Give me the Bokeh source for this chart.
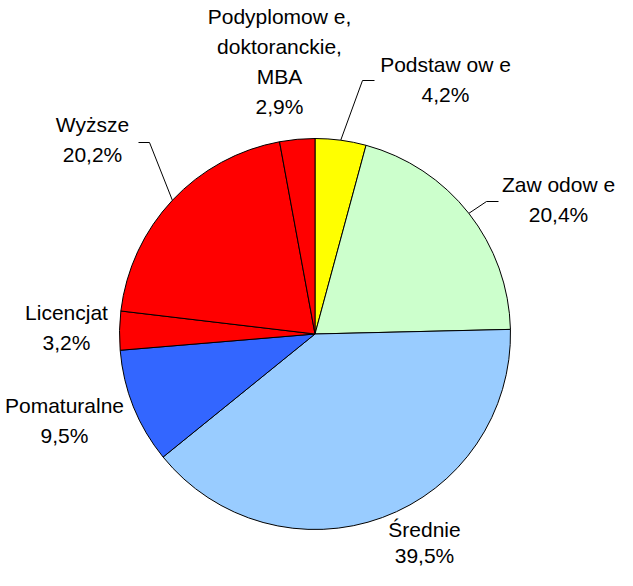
import numpy as np
from bokeh.plotting import figure
from bokeh.models import ColumnDataSource, Range1d
from bokeh.core.properties import value
from bokeh.embed import file_html
from bokeh.resources import INLINE

# ---- data (clockwise from 12 o'clock) ----
categories = ["Podstaw ow e", "Zaw odow e", "Średnie", "Pomaturalne",
              "Licencjat", "Wyższe", "Podyplomow e,\ndoktoranckie,\nMBA"]
values = [4.2, 20.4, 39.5, 9.5, 3.2, 20.2, 2.9]
pct_labels = ["4,2%", "20,4%", "39,5%", "9,5%", "3,2%", "20,2%", "2,9%"]
colors = ["#FFFF00", "#CCFFCC", "#99CCFF", "#3366FF", "#FF0000", "#FF0000", "#FF0000"]

# ---- layout (image pixel coords; y measured from top) ----
W, H = 633, 586
CX, CY, R = 322.5, 341.5, 195.5
# label centre x, centre y of first line, line gap
label_pos = [(453, 72, 30), (566, 192, 30), (432, 537, 26), (72, 413, 30),
             (74, 320, 30), (100, 132, 30), (287, 24, 30)]
# leader: (label end x, elbow x, elbow y) or None
leaders = [(382, 370, 88), (506, 494, 209), None, None, None, (146, 157, 150), None]

def fy(y_img):
    return H - y_img

p = figure(width=617, height=570, x_range=Range1d(8, 625), y_range=Range1d(8, 578),
           output_backend="svg", toolbar_location=None, min_border=0,
           outline_line_color=None, background_fill_color="white",
           border_fill_color="white")
p.axis.visible = False
p.grid.visible = False

vals = np.array(values, dtype=float)
frac = vals / vals.sum()
cum = np.concatenate([[0.0], np.cumsum(frac)])
theta_start = cum[:-1] * 2 * np.pi
theta_end = cum[1:] * 2 * np.pi
theta_mid = (theta_start + theta_end) / 2

src = ColumnDataSource(dict(
    start=np.pi / 2 - theta_start,
    end=np.pi / 2 - theta_end,
    color=colors,
    name=categories,
))
p.wedge(x=CX, y=fy(CY), radius=R, start_angle="start", end_angle="end",
        direction="clock", fill_color="color", line_color="black", line_width=1,
        source=src)

# leader lines
for i, ld in enumerate(leaders):
    if ld is None:
        continue
    lx, ex, ey = ld
    ax = CX + R * np.sin(theta_mid[i])
    ay = CY - R * np.cos(theta_mid[i])
    p.line([lx, ex, ax], [fy(ey), fy(ey), fy(ay)], line_color="black", line_width=1)

# labels
tx, ty, tt = [], [], []
for i, (x0, y0, gap) in enumerate(label_pos):
    lines = categories[i].split("\n") + [pct_labels[i]]
    for k, ln in enumerate(lines):
        tx.append(x0)
        ty.append(fy(y0 + k * gap))
        tt.append(ln)
p.text(x=tx, y=ty, text=tt, text_font=value("Liberation Sans"), text_font_size="21px",
       text_align="center", text_baseline="middle", text_color="black")

open("out.html", "w").write(file_html(p, INLINE))
